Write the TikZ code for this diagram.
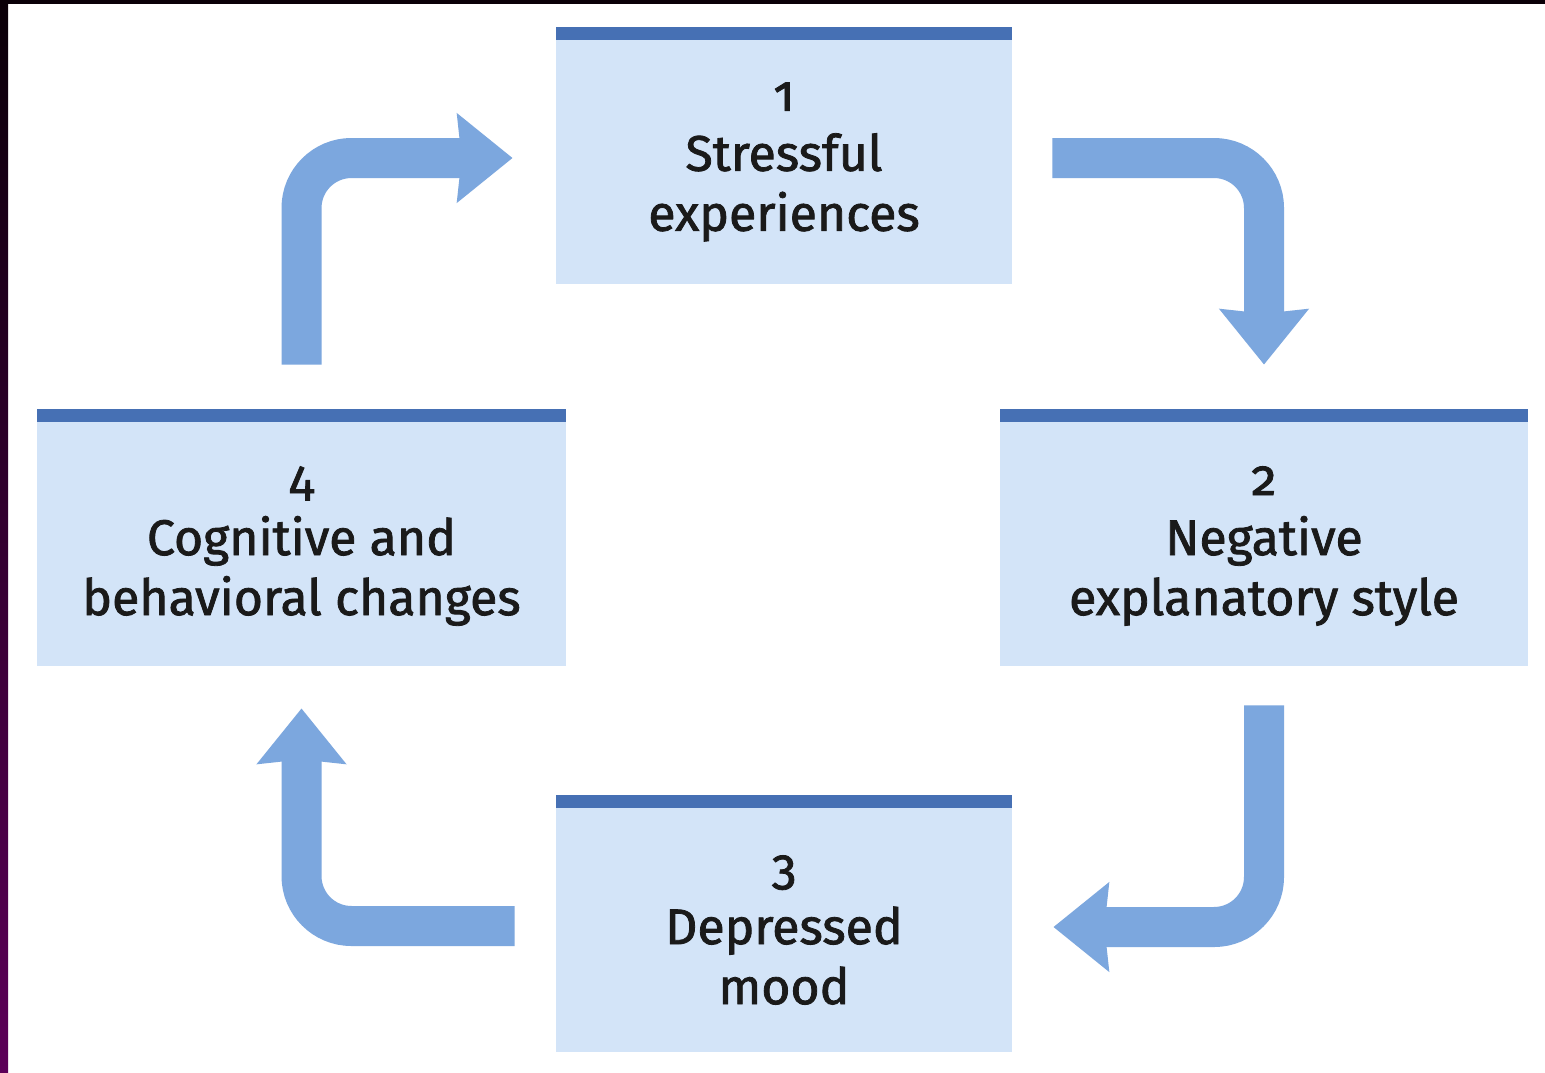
\documentclass[tikz,border=0pt]{standalone}
\usepackage{fontspec}
\setmainfont{Fira Sans}[Numbers=OldStyle, UprightFeatures={FakeBold=1.6}]
\usetikzlibrary{arrows.meta,calc}
\definecolor{boxcol}{RGB}{211,228,248}
\definecolor{barcol}{RGB}{70,112,180}
\definecolor{arrcol}{RGB}{124,167,222}
\definecolor{txtcol}{RGB}{26,26,26}
\definecolor{frameA}{RGB}{10,0,8}
\definecolor{frameB}{RGB}{92,0,88}
\tikzset{
  panel/.style={fill=boxcol, draw=none, inner sep=0pt},
  label/.style={align=center, text=txtcol, font=\fontsize{25}{30}\selectfont, inner sep=0pt},
  flow/.style={draw=arrcol, line width=20pt, rounded corners=25pt,
    -{Stealth[length=27.5pt, width=43.5pt, inset=2pt]}},
}
\begin{document}
\begin{tikzpicture}[x=0.5pt, y=-0.5pt]
\useasboundingbox (0,0) rectangle (1545,1072);
\fill[white] (0,0) rectangle (1545,1072);
\fill[frameA] (0,0) rectangle (1545,4);
\shade[top color=frameA, bottom color=frameB] (0,0) rectangle (8,1072);
% boxes
\node[panel, minimum width=228pt, minimum height=122pt] (b1) at (784,162) {};
\node[panel, minimum width=264pt, minimum height=122pt] (b2) at (1264,544) {};
\node[panel, minimum width=228pt, minimum height=122pt] (b3) at (784,930) {};
\node[panel, minimum width=264.5pt, minimum height=122pt] (b4) at (301.5,544) {};
\foreach \b in {b1,b2,b3,b4}
  \fill[barcol] (\b.north west) rectangle ($(\b.north east)+(0,-13)$);
% texts
\node[label] (t1) at ($(b1.center)+(0,0)$) {1\\Stressful\\experiences};
\node[label] (t2) at ($(b2.center)+(0,2)$) {2\\Negative\\explanatory style};
\node[label] (t3) at ($(b3.center)+(0,0)$) {3\\Depressed\\mood};
\node[label] (t4) at ($(b4.center)+(0,2)$) {4\\Cognitive and\\behavioral changes};
% arrows
\draw[flow] ($(b4.north)+(0,-57)$) |- ($(b1.west)+(-43,-4)$);
\draw[flow] ($(b1.east)+(40,-4)$) -| ($(b2.north)+(0,-57)$);
\draw[flow] ($(b2.south)+(0,39)$) |- ($(b3.east)+(41,-3)$);
\draw[flow] ($(b3.west)+(-41,-4)$) -| ($(b4.south)+(0,42)$);
\end{tikzpicture}
\end{document}
